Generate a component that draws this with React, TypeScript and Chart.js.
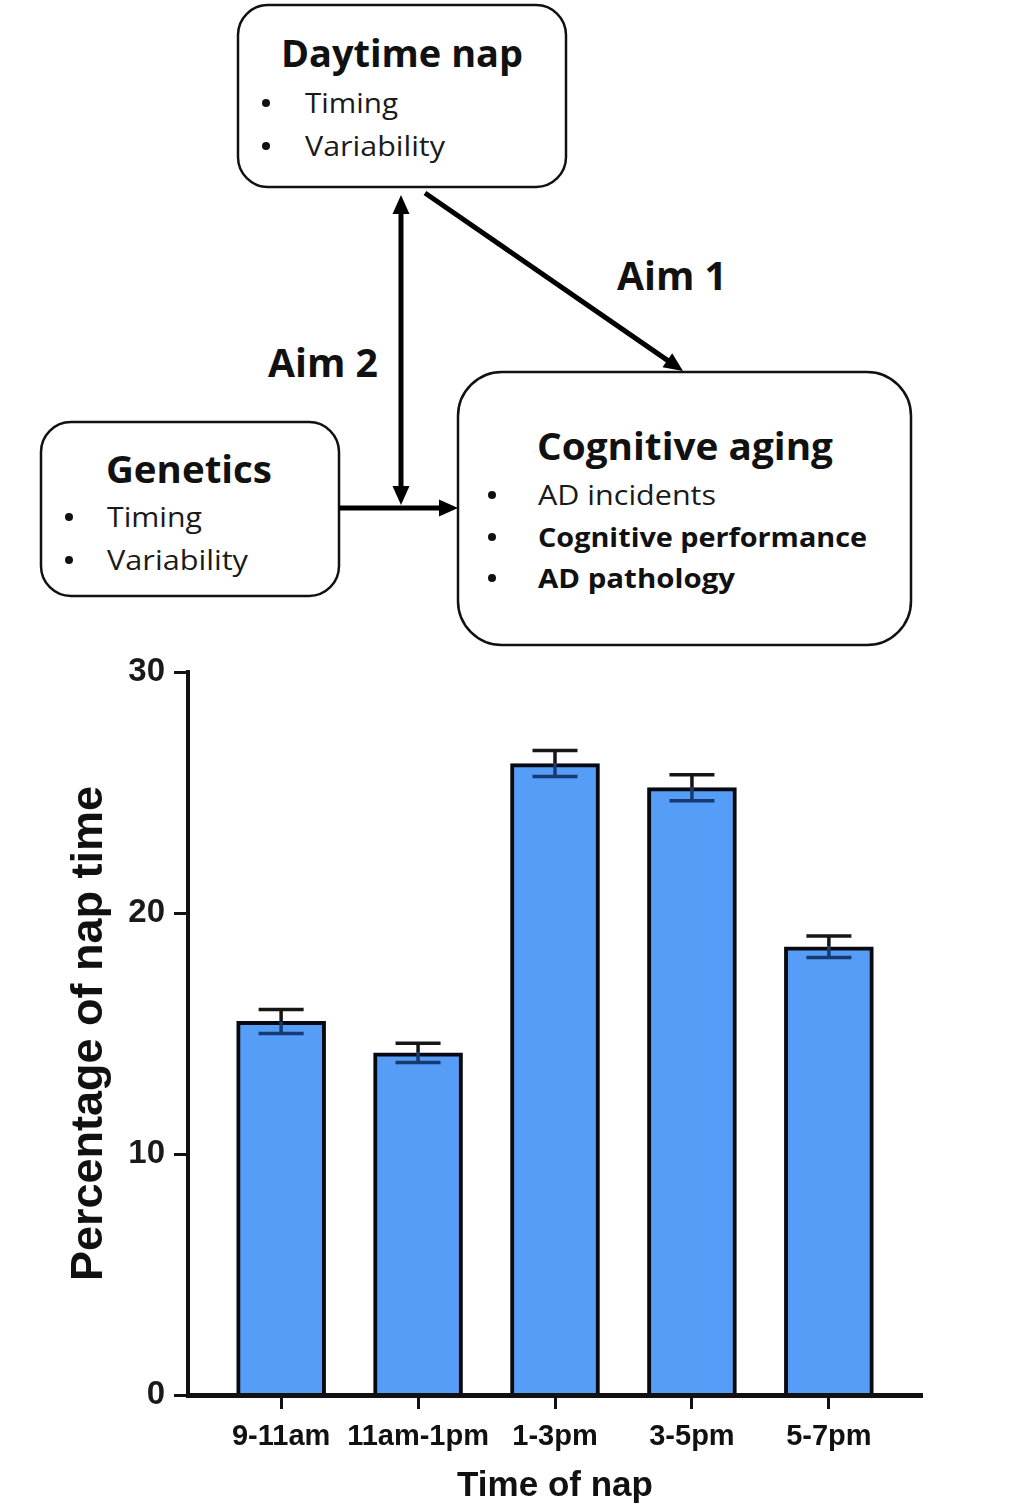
import React, { useEffect, useRef } from "react";
import { Chart, registerables } from "chart.js";

Chart.register(...registerables);

// ---- chart data ----
const categories = ["9-11am", "11am-1pm", "1-3pm", "3-5pm", "5-7pm"];
const napPercent = [15.5, 14.2, 26.2, 25.2, 18.6];
const napError = [0.5, 0.4, 0.54, 0.54, 0.45];
const yTicks = [0, 10, 20, 30];
const yTitle = "Percentage of nap time";
const xTitle = "Time of nap";

// ---- diagram text ----
const napItems = ["Timing", "Variability"];
const geneticsItems = ["Timing", "Variability"];
const cognitiveItems = ["AD incidents", "Cognitive performance", "AD pathology"];
const cognitiveBold = [false, true, true];

const FONT = "'Liberation Sans', Arial, Helvetica, sans-serif";
const DFONT = "'Open Sans', 'Noto Sans', sans-serif";

const errorBarPlugin = {
  id: "errorBars",
  afterDatasetsDraw(chart: any) {
    const { ctx } = chart;
    const x = chart.scales.x;
    const y = chart.scales.y;
    ctx.save();
    ctx.lineWidth = 3.5;
    ctx.lineCap = "butt";
    const hw = 22.5;
    napPercent.forEach((v, i) => {
      const px = x.getPixelForValue(i);
      const pv = y.getPixelForValue(v);
      const pt = y.getPixelForValue(v + napError[i]);
      const pb = y.getPixelForValue(v - napError[i]);
      ctx.strokeStyle = "#161616";
      ctx.beginPath();
      ctx.moveTo(px, pt);
      ctx.lineTo(px, pv);
      ctx.moveTo(px - hw, pt);
      ctx.lineTo(px + hw, pt);
      ctx.stroke();
      ctx.strokeStyle = "#173a70";
      ctx.beginPath();
      ctx.moveTo(px, pv);
      ctx.lineTo(px, pb);
      ctx.moveTo(px - hw, pb);
      ctx.lineTo(px + hw, pb);
      ctx.stroke();
    });
    ctx.restore();
  },
};

function head(tx: number, ty: number, fx: number, fy: number, L: number, W: number) {
  const dx = tx - fx;
  const dy = ty - fy;
  const d = Math.hypot(dx, dy);
  const ux = dx / d;
  const uy = dy / d;
  const bx = tx - ux * L;
  const by = ty - uy * L;
  const px = -uy * (W / 2);
  const py = ux * (W / 2);
  return {
    points: `${tx},${ty} ${bx + px},${by + py} ${bx - px},${by - py}`,
    bx: tx - ux * (L - 2),
    by: ty - uy * (L - 2),
  };
}

function Arrow({ x1, y1, x2, y2, both = false }: any) {
  const h2 = head(x2, y2, x1, y1, 19, 17);
  const h1 = both ? head(x1, y1, x2, y2, 19, 17) : null;
  const sx = h1 ? h1.bx : x1;
  const sy = h1 ? h1.by : y1;
  return (
    <g>
      <line x1={sx} y1={sy} x2={h2.bx} y2={h2.by} stroke="#000" strokeWidth={5} />
      <polygon points={h2.points} fill="#000" />
      {h1 && <polygon points={h1.points} fill="#000" />}
    </g>
  );
}

function T({ x, y, w, size, bold, text, color = "#111" }: any) {
  return (
    <text
      x={x}
      y={y}
      fontFamily={DFONT}
      fontSize={size}
      fontWeight={bold ? 700 : 400}
      fill={color}
      textLength={w}
      lengthAdjust="spacingAndGlyphs"
    >
      {text}
    </text>
  );
}

function Bullet({ x, y }: any) {
  return <circle cx={x} cy={y - 10} r={4} fill="#111" />;
}

export default function App() {
  const canvasRef = useRef<HTMLCanvasElement | null>(null);

  useEffect(() => {
    const canvas = canvasRef.current;
    if (!canvas) return;
    const chart = new Chart(canvas, {
      type: "bar",
      data: {
        datasets: [
          {
            data: categories.map((_, i) => ({ x: i, y: napPercent[i] })),
            backgroundColor: "#569DF8",
            borderColor: "#06090f",
            borderWidth: 4,
            borderSkipped: "start",
            barThickness: 89,
          } as any,
        ],
      },
      options: {
        responsive: false,
        animation: false,
        devicePixelRatio: 1,
        layout: { padding: { top: 22, right: 102, bottom: 0, left: 0 } },
        plugins: { legend: { display: false }, tooltip: { enabled: false } },
        scales: {
          x: {
            type: "linear",
            min: -0.68,
            max: 4.68,
            offset: false,
            afterBuildTicks: (axis: any) => {
              axis.ticks = categories.map((_, i) => ({ value: i }));
            },
            afterFit: (s: any) => {
              s.height = 116;
              s.paddingLeft = 0;
              s.paddingRight = 0;
            },
            grid: {
              offset: false,
              drawOnChartArea: false,
              drawTicks: true,
              tickLength: 14,
              tickWidth: 3,
              tickColor: "#111",
            },
            border: { display: true, color: "#111", width: 5, z: 1 },
            ticks: {
              autoSkip: false,
              maxRotation: 0,
              minRotation: 0,
              padding: 11,
              color: "#111",
              font: { family: FONT, size: 29, weight: "bold" },
              callback: (v: any) => categories[v as number] ?? "",
            },
            title: {
              display: true,
              text: xTitle,
              color: "#111",
              font: { family: FONT, size: 35, weight: "bold" },
              padding: { top: 0, bottom: 4 },
            },
          } as any,
          y: {
            type: "linear",
            min: 0,
            max: 30,
            afterBuildTicks: (axis: any) => {
              axis.ticks = yTicks.map((v) => ({ value: v }));
            },
            afterFit: (s: any) => {
              s.width = 188;
              s.paddingTop = 0;
              s.paddingBottom = 0;
            },
            grid: {
              drawOnChartArea: false,
              drawTicks: true,
              tickLength: 14,
              tickWidth: 3,
              tickColor: "#111",
            },
            border: { display: true, color: "#111", width: 4 },
            ticks: {
              padding: 9,
              color: "#1a1a1a",
              font: { family: FONT, size: 33, weight: "bold" },
            },
            title: {
              display: true,
              text: yTitle,
              color: "#111",
              font: { family: FONT, size: 45, weight: "bold" },
              padding: { top: 63, bottom: 0 },
            },
          } as any,
        },
      },
      plugins: [errorBarPlugin],
    });
    return () => chart.destroy();
  }, []);

  return (
    <div
      style={{
        position: "absolute",
        left: 0,
        top: 0,
        width: 1024,
        height: 1511,
        background: "#fff",
        overflow: "hidden",
      }}
    >
      <svg
        width={1024}
        height={650}
        style={{ position: "absolute", left: 0, top: 0 }}
      >
        {/* boxes */}
        <rect x={238} y={5} width={328} height={182} rx={30} fill="#fff" stroke="#111" strokeWidth={2.5} />
        <rect x={41} y={422} width={298} height={174} rx={30} fill="#fff" stroke="#111" strokeWidth={2.5} />
        <rect x={458} y={372} width={453} height={273} rx={44} fill="#fff" stroke="#111" strokeWidth={2.5} />

        {/* arrows */}
        <Arrow x1={401} y1={195} x2={401} y2={505} both />
        <Arrow x1={339} y1={508} x2={458} y2={508} />
        <Arrow x1={425} y1={193} x2={683} y2={371} />

        {/* Daytime nap */}
        <T x={281} y={67} w={242} size={37} bold text="Daytime nap" />
        <Bullet x={266} y={113} />
        <T x={305} y={113} w={93} size={27} text={napItems[0]} color="#1a1a1a" />
        <Bullet x={266} y={156} />
        <T x={305} y={156} w={140} size={27} text={napItems[1]} color="#1a1a1a" />

        {/* Genetics */}
        <T x={106} y={483} w={166} size={37} bold text="Genetics" />
        <Bullet x={69} y={527} />
        <T x={107} y={527} w={95} size={27} text={geneticsItems[0]} color="#1a1a1a" />
        <Bullet x={69} y={570} />
        <T x={107} y={570} w={141} size={27} text={geneticsItems[1]} color="#1a1a1a" />

        {/* Cognitive aging */}
        <T x={537} y={460} w={296} size={37} bold text="Cognitive aging" />
        <Bullet x={492} y={505} />
        <T x={538} y={505} w={178} size={27} bold={cognitiveBold[0]} text={cognitiveItems[0]} color="#1a1a1a" />
        <Bullet x={492} y={547} />
        <T x={538} y={547} w={329} size={27} bold={cognitiveBold[1]} text={cognitiveItems[1]} />
        <Bullet x={492} y={588} />
        <T x={538} y={588} w={197} size={27} bold={cognitiveBold[2]} text={cognitiveItems[2]} />

        {/* Aim labels */}
        <T x={617} y={290} w={110} size={39} bold text="Aim 1" />
        <T x={268} y={377} w={110} size={39} bold text="Aim 2" />
      </svg>
      <canvas
        ref={canvasRef}
        width={1024}
        height={861}
        style={{ position: "absolute", left: 0, top: 650, width: 1024, height: 861 }}
      />
    </div>
  );
}
